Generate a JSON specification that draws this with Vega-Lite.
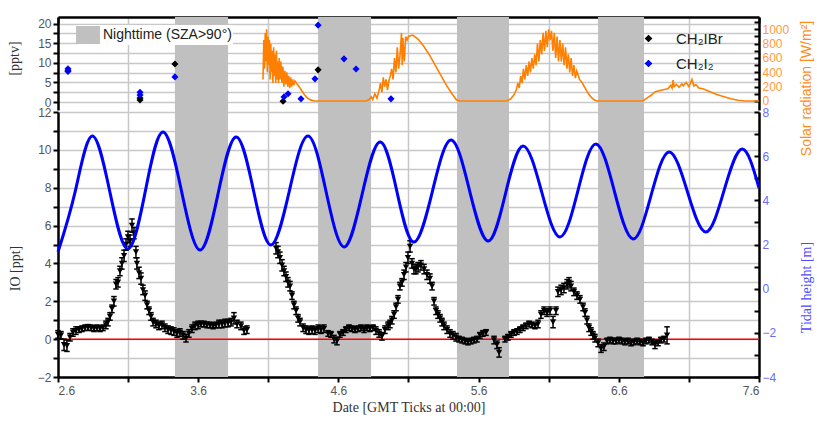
{
"$schema":"https://vega.github.io/schema/vega-lite/v6.json",
"autosize":{"type":"none"},
"padding":{"left":58,"top":17,"right":58,"bottom":44},
"width":701,
"height":360,
"config":{"view":{"stroke":null},
 "axis":{"labelFont":"Liberation Sans","labelFontSize":12,"labelColor":"#555","titleFont":"Liberation Serif","titleFontSize":14,"titleColor":"#333","titleFontWeight":"normal","domainColor":"black","domainWidth":2.5,"tickColor":"black","tickWidth":2,"tickSize":5,"gridColor":"#c8c8c8","gridWidth":1.5}},
"datasets":{
"bands":[{"start":3.434,"end":3.813,"label":"Nighttime (SZA>90°)"},{"start":4.455,"end":4.833,"label":"Nighttime (SZA>90°)"},{"start":5.446,"end":5.817,"label":"Nighttime (SZA>90°)"},{"start":6.452,"end":6.780,"label":"Nighttime (SZA>90°)"}],
"zero":[{"a":2.6,"b":7.6,"z":0}],
"chem":[{"d":2.671,"v":8.0,"sp":"CH₂IBr"},{"d":3.185,"v":1.0,"sp":"CH₂IBr"},{"d":3.185,"v":0.5,"sp":"CH₂IBr"},{"d":3.434,"v":9.7,"sp":"CH₂IBr"},{"d":4.205,"v":0.2,"sp":"CH₂IBr"},{"d":4.455,"v":8.2,"sp":"CH₂IBr"},
{"d":2.671,"v":8.5,"sp":"CH₂I₂"},{"d":2.671,"v":7.8,"sp":"CH₂I₂"},{"d":3.185,"v":2.5,"sp":"CH₂I₂"},{"d":3.185,"v":1.8,"sp":"CH₂I₂"},{"d":3.434,"v":6.4,"sp":"CH₂I₂"},{"d":4.212,"v":1.3,"sp":"CH₂I₂"},{"d":4.241,"v":2.1,"sp":"CH₂I₂"},{"d":4.333,"v":0.8,"sp":"CH₂I₂"},{"d":4.433,"v":5.9,"sp":"CH₂I₂"},{"d":4.455,"v":19.6,"sp":"CH₂I₂"},{"d":4.640,"v":11.0,"sp":"CH₂I₂"},{"d":4.726,"v":8.4,"sp":"CH₂I₂"},{"d":4.975,"v":0.8,"sp":"CH₂I₂"}],
"solar":[{"d":4.062,"s":300},{"d":4.068,"s":850},{"d":4.073,"s":450},{"d":4.078,"s":950},{"d":4.083,"s":550},{"d":4.088,"s":1000},{"d":4.093,"s":400},{"d":4.098,"s":900},{"d":4.103,"s":500},{"d":4.108,"s":850},{"d":4.113,"s":300},{"d":4.118,"s":800},{"d":4.123,"s":400},{"d":4.128,"s":700},{"d":4.133,"s":250},{"d":4.138,"s":750},{"d":4.143,"s":350},{"d":4.148,"s":650},{"d":4.153,"s":250},{"d":4.158,"s":700},{"d":4.163,"s":300},{"d":4.168,"s":550},{"d":4.173,"s":250},{"d":4.178,"s":600},{"d":4.183,"s":300},{"d":4.190,"s":550},{"d":4.197,"s":250},{"d":4.204,"s":480},{"d":4.211,"s":200},{"d":4.218,"s":420},{"d":4.225,"s":230},{"d":4.232,"s":400},{"d":4.239,"s":200},{"d":4.246,"s":350},{"d":4.253,"s":180},{"d":4.260,"s":330},{"d":4.267,"s":200},{"d":4.274,"s":300},{"d":4.281,"s":220},{"d":4.290,"s":280},{"d":4.300,"s":250},{"d":4.320,"s":200},{"d":4.340,"s":140},{"d":4.360,"s":80},{"d":4.380,"s":40},{"d":4.400,"s":15},{"d":4.430,"s":0},{"d":4.800,"s":0},{"d":4.820,"s":20},{"d":4.835,"s":60},{"d":4.845,"s":20},{"d":4.860,"s":100},{"d":4.875,"s":40},{"d":4.890,"s":150},{"d":4.900,"s":250},{"d":4.910,"s":120},{"d":4.920,"s":330},{"d":4.930,"s":200},{"d":4.940,"s":300},{"d":4.950,"s":150},{"d":4.960,"s":280},{"d":4.970,"s":350},{"d":4.980,"s":450},{"d":4.990,"s":300},{"d":5.000,"s":600},{"d":5.010,"s":400},{"d":5.020,"s":750},{"d":5.030,"s":450},{"d":5.040,"s":650},{"d":5.050,"s":950},{"d":5.055,"s":500},{"d":5.060,"s":880},{"d":5.070,"s":550},{"d":5.080,"s":900},{"d":5.090,"s":850},{"d":5.100,"s":900},{"d":5.130,"s":920},{"d":5.170,"s":860},{"d":5.210,"s":760},{"d":5.250,"s":640},{"d":5.290,"s":500},{"d":5.330,"s":360},{"d":5.370,"s":220},{"d":5.410,"s":100},{"d":5.440,"s":20},{"d":5.460,"s":0},{"d":5.800,"s":0},{"d":5.830,"s":30},{"d":5.850,"s":80},{"d":5.870,"s":160},{"d":5.880,"s":250},{"d":5.890,"s":180},{"d":5.900,"s":350},{"d":5.910,"s":250},{"d":5.920,"s":450},{"d":5.930,"s":300},{"d":5.940,"s":500},{"d":5.950,"s":350},{"d":5.960,"s":550},{"d":5.970,"s":400},{"d":5.980,"s":600},{"d":5.990,"s":450},{"d":6.000,"s":650},{"d":6.010,"s":500},{"d":6.020,"s":800},{"d":6.030,"s":550},{"d":6.040,"s":850},{"d":6.050,"s":650},{"d":6.060,"s":950},{"d":6.070,"s":700},{"d":6.080,"s":980},{"d":6.090,"s":750},{"d":6.100,"s":1000},{"d":6.110,"s":850},{"d":6.120,"s":980},{"d":6.130,"s":700},{"d":6.140,"s":950},{"d":6.150,"s":600},{"d":6.160,"s":900},{"d":6.170,"s":550},{"d":6.180,"s":850},{"d":6.190,"s":550},{"d":6.200,"s":800},{"d":6.210,"s":500},{"d":6.220,"s":750},{"d":6.230,"s":450},{"d":6.240,"s":650},{"d":6.250,"s":400},{"d":6.260,"s":600},{"d":6.270,"s":350},{"d":6.280,"s":500},{"d":6.290,"s":320},{"d":6.300,"s":420},{"d":6.320,"s":300},{"d":6.340,"s":250},{"d":6.360,"s":180},{"d":6.380,"s":110},{"d":6.400,"s":60},{"d":6.420,"s":20},{"d":6.445,"s":0},{"d":6.770,"s":0},{"d":6.800,"s":40},{"d":6.830,"s":80},{"d":6.860,"s":130},{"d":6.900,"s":150},{"d":6.950,"s":170},{"d":6.970,"s":220},{"d":6.980,"s":180},{"d":6.987,"s":290},{"d":6.995,"s":200},{"d":7.010,"s":230},{"d":7.030,"s":190},{"d":7.050,"s":240},{"d":7.060,"s":210},{"d":7.080,"s":260},{"d":7.100,"s":200},{"d":7.122,"s":300},{"d":7.135,"s":210},{"d":7.150,"s":230},{"d":7.170,"s":180},{"d":7.200,"s":170},{"d":7.250,"s":130},{"d":7.300,"s":90},{"d":7.350,"s":60},{"d":7.400,"s":30},{"d":7.450,"s":10},{"d":7.500,"s":0},{"d":7.600,"s":0}],
"tide":[{"d":2.600,"h":1.66},{"d":2.722,"h":4.38},{"d":2.843,"h":6.91},{"d":2.971,"h":4.35},{"d":3.099,"h":1.80},{"d":3.224,"h":4.45},{"d":3.349,"h":7.09},{"d":3.481,"h":4.42},{"d":3.613,"h":1.75},{"d":3.742,"h":4.31},{"d":3.870,"h":6.87},{"d":3.995,"h":4.43},{"d":4.119,"h":1.98},{"d":4.251,"h":4.45},{"d":4.383,"h":6.91},{"d":4.512,"h":4.4},{"d":4.640,"h":1.89},{"d":4.769,"h":4.27},{"d":4.897,"h":6.64},{"d":5.018,"h":4.38},{"d":5.139,"h":2.11},{"d":5.271,"h":4.42},{"d":5.403,"h":6.73},{"d":5.535,"h":4.45},{"d":5.667,"h":2.16},{"d":5.792,"h":4.31},{"d":5.917,"h":6.46},{"d":6.049,"h":4.4},{"d":6.181,"h":2.34},{"d":6.309,"h":4.45},{"d":6.437,"h":6.55},{"d":6.569,"h":4.4},{"d":6.701,"h":2.25},{"d":6.830,"h":4.22},{"d":6.958,"h":6.19},{"d":7.090,"h":4.38},{"d":7.222,"h":2.57},{"d":7.351,"h":4.45},{"d":7.479,"h":6.32},{"d":7.600,"h":4.56}],
"io":[{"d":2.600,"v":0.25,"lo":0.05,"hi":0.45},{"d":2.621,"v":0.2,"lo":0.0,"hi":0.4},{"d":2.643,"v":-0.3,"lo":-0.6,"hi":0.0},{"d":2.664,"v":-0.35,"lo":-0.65,"hi":-0.05},{"d":2.686,"v":0.1,"lo":-0.1,"hi":0.3},{"d":2.707,"v":0.35,"lo":0.15,"hi":0.55},{"d":2.728,"v":0.45,"lo":0.25,"hi":0.65},{"d":2.750,"v":0.5,"lo":0.35,"hi":0.65},{"d":2.771,"v":0.55,"lo":0.4,"hi":0.7},{"d":2.793,"v":0.6,"lo":0.45,"hi":0.75},{"d":2.814,"v":0.62,"lo":0.47,"hi":0.77},{"d":2.835,"v":0.6,"lo":0.45,"hi":0.75},{"d":2.857,"v":0.55,"lo":0.4,"hi":0.7},{"d":2.878,"v":0.6,"lo":0.45,"hi":0.75},{"d":2.900,"v":0.55,"lo":0.4,"hi":0.7},{"d":2.921,"v":0.6,"lo":0.45,"hi":0.75},{"d":2.942,"v":0.75,"lo":0.55,"hi":0.95},{"d":2.957,"v":0.9,"lo":0.7,"hi":1.1},{"d":2.971,"v":1.2,"lo":1.0,"hi":1.4},{"d":2.985,"v":1.6,"lo":1.4,"hi":1.8},{"d":2.999,"v":2.0,"lo":1.75,"hi":2.25},{"d":3.014,"v":2.9,"lo":2.65,"hi":3.15},{"d":3.028,"v":3.0,"lo":2.75,"hi":3.25},{"d":3.042,"v":3.6,"lo":3.35,"hi":3.85},{"d":3.056,"v":4.0,"lo":3.7,"hi":4.3},{"d":3.071,"v":4.4,"lo":4.1,"hi":4.7},{"d":3.085,"v":5.0,"lo":4.7,"hi":5.3},{"d":3.099,"v":5.4,"lo":5.1,"hi":5.7},{"d":3.114,"v":5.2,"lo":4.9,"hi":5.5},{"d":3.128,"v":6.0,"lo":5.65,"hi":6.35},{"d":3.142,"v":5.6,"lo":5.3,"hi":5.9},{"d":3.156,"v":4.6,"lo":4.3,"hi":4.9},{"d":3.163,"v":4.0,"lo":3.7,"hi":4.3},{"d":3.178,"v":3.5,"lo":3.2,"hi":3.8},{"d":3.192,"v":3.2,"lo":2.9,"hi":3.5},{"d":3.206,"v":2.6,"lo":2.35,"hi":2.85},{"d":3.221,"v":2.3,"lo":2.05,"hi":2.55},{"d":3.235,"v":1.8,"lo":1.6,"hi":2.0},{"d":3.249,"v":1.5,"lo":1.3,"hi":1.7},{"d":3.263,"v":1.2,"lo":1.0,"hi":1.4},{"d":3.278,"v":0.9,"lo":0.7,"hi":1.1},{"d":3.299,"v":0.8,"lo":0.6,"hi":1.0},{"d":3.320,"v":0.7,"lo":0.5,"hi":0.9},{"d":3.342,"v":0.75,"lo":0.55,"hi":0.95},{"d":3.363,"v":0.6,"lo":0.4,"hi":0.8},{"d":3.385,"v":0.5,"lo":0.3,"hi":0.7},{"d":3.406,"v":0.45,"lo":0.25,"hi":0.65},{"d":3.427,"v":0.4,"lo":0.2,"hi":0.6},{"d":3.449,"v":0.3,"lo":0.1,"hi":0.5},{"d":3.470,"v":0.35,"lo":0.15,"hi":0.55},{"d":3.492,"v":0.2,"lo":0.0,"hi":0.4},{"d":3.513,"v":0.05,"lo":-0.15,"hi":0.25},{"d":3.534,"v":0.3,"lo":0.1,"hi":0.5},{"d":3.556,"v":0.55,"lo":0.35,"hi":0.75},{"d":3.577,"v":0.7,"lo":0.5,"hi":0.9},{"d":3.599,"v":0.75,"lo":0.55,"hi":0.95},{"d":3.620,"v":0.8,"lo":0.65,"hi":0.95},{"d":3.641,"v":0.8,"lo":0.65,"hi":0.95},{"d":3.663,"v":0.75,"lo":0.6,"hi":0.9},{"d":3.684,"v":0.75,"lo":0.6,"hi":0.9},{"d":3.706,"v":0.7,"lo":0.55,"hi":0.85},{"d":3.727,"v":0.75,"lo":0.6,"hi":0.9},{"d":3.748,"v":0.8,"lo":0.6,"hi":1.0},{"d":3.770,"v":0.8,"lo":0.6,"hi":1.0},{"d":3.791,"v":0.85,"lo":0.65,"hi":1.05},{"d":3.813,"v":0.85,"lo":0.65,"hi":1.05},{"d":3.834,"v":0.9,"lo":0.7,"hi":1.1},{"d":3.855,"v":1.1,"lo":0.8,"hi":1.4},{"d":3.877,"v":0.8,"lo":0.6,"hi":1.0},{"d":3.905,"v":0.7,"lo":0.5,"hi":0.9},{"d":3.927,"v":0.45,"lo":0.25,"hi":0.65},{"d":3.948,"v":0.5,"lo":0.3,"hi":0.7},
{"d":4.155,"v":4.8,"lo":4.5,"hi":5.1},{"d":4.169,"v":4.6,"lo":4.3,"hi":4.9},{"d":4.183,"v":4.3,"lo":4.0,"hi":4.6},{"d":4.198,"v":3.9,"lo":3.6,"hi":4.2},{"d":4.212,"v":3.6,"lo":3.35,"hi":3.85},{"d":4.226,"v":3.3,"lo":3.05,"hi":3.55},{"d":4.240,"v":3.0,"lo":2.75,"hi":3.25},{"d":4.255,"v":2.8,"lo":2.55,"hi":3.05},{"d":4.269,"v":2.3,"lo":2.1,"hi":2.5},{"d":4.283,"v":1.8,"lo":1.6,"hi":2.0},{"d":4.298,"v":1.5,"lo":1.3,"hi":1.7},{"d":4.312,"v":1.1,"lo":0.9,"hi":1.3},{"d":4.326,"v":0.9,"lo":0.7,"hi":1.1},{"d":4.348,"v":0.6,"lo":0.4,"hi":0.8},{"d":4.369,"v":0.5,"lo":0.3,"hi":0.7},{"d":4.390,"v":0.45,"lo":0.25,"hi":0.65},{"d":4.412,"v":0.5,"lo":0.3,"hi":0.7},{"d":4.433,"v":0.45,"lo":0.25,"hi":0.65},{"d":4.455,"v":0.55,"lo":0.35,"hi":0.75},{"d":4.476,"v":0.5,"lo":0.3,"hi":0.7},{"d":4.497,"v":0.55,"lo":0.35,"hi":0.75},{"d":4.526,"v":0.3,"lo":0.15,"hi":0.45},{"d":4.547,"v":0.25,"lo":0.1,"hi":0.4},{"d":4.569,"v":0.0,"lo":-0.2,"hi":0.2},{"d":4.590,"v":-0.1,"lo":-0.3,"hi":0.1},{"d":4.611,"v":0.25,"lo":0.1,"hi":0.4},{"d":4.633,"v":0.35,"lo":0.2,"hi":0.5},{"d":4.654,"v":0.5,"lo":0.35,"hi":0.65},{"d":4.676,"v":0.6,"lo":0.45,"hi":0.75},{"d":4.697,"v":0.55,"lo":0.4,"hi":0.7},{"d":4.718,"v":0.5,"lo":0.35,"hi":0.65},{"d":4.740,"v":0.55,"lo":0.4,"hi":0.7},{"d":4.761,"v":0.6,"lo":0.45,"hi":0.75},{"d":4.783,"v":0.5,"lo":0.35,"hi":0.65},{"d":4.804,"v":0.6,"lo":0.45,"hi":0.75},{"d":4.825,"v":0.55,"lo":0.4,"hi":0.7},{"d":4.847,"v":0.6,"lo":0.45,"hi":0.75},{"d":4.868,"v":0.45,"lo":0.25,"hi":0.65},{"d":4.890,"v":0.3,"lo":0.1,"hi":0.5},{"d":4.911,"v":0.15,"lo":-0.05,"hi":0.35},{"d":4.932,"v":0.5,"lo":0.3,"hi":0.7},{"d":4.954,"v":0.7,"lo":0.5,"hi":0.9},{"d":4.968,"v":0.8,"lo":0.6,"hi":1.0},{"d":4.982,"v":1.0,"lo":0.8,"hi":1.2},{"d":4.997,"v":1.3,"lo":1.1,"hi":1.5},{"d":5.011,"v":1.7,"lo":1.5,"hi":1.9},{"d":5.025,"v":2.1,"lo":1.9,"hi":2.3},{"d":5.039,"v":2.8,"lo":2.6,"hi":3.0},{"d":5.054,"v":3.0,"lo":2.8,"hi":3.2},{"d":5.068,"v":3.4,"lo":3.15,"hi":3.65},{"d":5.082,"v":3.8,"lo":3.55,"hi":4.05},{"d":5.096,"v":4.3,"lo":4.0,"hi":4.6},{"d":5.111,"v":4.9,"lo":4.6,"hi":5.2},{"d":5.125,"v":4.0,"lo":3.75,"hi":4.25},{"d":5.139,"v":3.7,"lo":3.45,"hi":3.95},{"d":5.153,"v":3.7,"lo":3.45,"hi":3.95},{"d":5.168,"v":3.8,"lo":3.55,"hi":4.05},{"d":5.189,"v":3.9,"lo":3.65,"hi":4.15},{"d":5.211,"v":3.7,"lo":3.45,"hi":3.95},{"d":5.232,"v":3.4,"lo":3.15,"hi":3.65},{"d":5.253,"v":3.2,"lo":2.95,"hi":3.45},{"d":5.268,"v":2.8,"lo":2.6,"hi":3.0},{"d":5.282,"v":2.0,"lo":1.8,"hi":2.2},{"d":5.296,"v":1.5,"lo":1.3,"hi":1.7},{"d":5.310,"v":1.3,"lo":1.1,"hi":1.5},{"d":5.325,"v":1.1,"lo":0.9,"hi":1.3},{"d":5.339,"v":0.9,"lo":0.7,"hi":1.1},{"d":5.353,"v":0.7,"lo":0.5,"hi":0.9},{"d":5.375,"v":0.5,"lo":0.3,"hi":0.7},{"d":5.396,"v":0.3,"lo":0.1,"hi":0.5},{"d":5.417,"v":0.2,"lo":0.0,"hi":0.4},{"d":5.439,"v":0.1,"lo":-0.1,"hi":0.3},{"d":5.460,"v":0.0,"lo":-0.15,"hi":0.15},{"d":5.482,"v":-0.05,"lo":-0.2,"hi":0.1},{"d":5.503,"v":-0.1,"lo":-0.25,"hi":0.05},{"d":5.524,"v":-0.15,"lo":-0.3,"hi":0.0},{"d":5.546,"v":-0.1,"lo":-0.25,"hi":0.05},{"d":5.567,"v":-0.05,"lo":-0.2,"hi":0.1},{"d":5.589,"v":0.0,"lo":-0.15,"hi":0.15},{"d":5.610,"v":0.2,"lo":0.05,"hi":0.35},{"d":5.631,"v":0.3,"lo":0.15,"hi":0.45},{"d":5.653,"v":0.35,"lo":0.2,"hi":0.5},{"d":5.710,"v":-0.05,"lo":-0.25,"hi":0.15},{"d":5.731,"v":-0.3,"lo":-0.5,"hi":-0.1},{"d":5.746,"v":-0.7,"lo":-0.95,"hi":-0.45},{"d":5.788,"v":0.0,"lo":-0.15,"hi":0.15},{"d":5.810,"v":0.1,"lo":-0.05,"hi":0.25},{"d":5.831,"v":0.25,"lo":0.1,"hi":0.4},{"d":5.853,"v":0.35,"lo":0.2,"hi":0.5},{"d":5.874,"v":0.4,"lo":0.25,"hi":0.55},{"d":5.895,"v":0.5,"lo":0.35,"hi":0.65},{"d":5.917,"v":0.6,"lo":0.45,"hi":0.75},{"d":5.938,"v":0.7,"lo":0.55,"hi":0.85},{"d":5.960,"v":0.8,"lo":0.65,"hi":0.95},{"d":5.981,"v":0.75,"lo":0.6,"hi":0.9},{"d":6.002,"v":0.7,"lo":0.55,"hi":0.85},{"d":6.024,"v":0.8,"lo":0.6,"hi":1.0},{"d":6.045,"v":1.3,"lo":1.1,"hi":1.5},{"d":6.067,"v":1.5,"lo":1.3,"hi":1.7},{"d":6.088,"v":1.4,"lo":1.2,"hi":1.6},{"d":6.109,"v":1.5,"lo":1.3,"hi":1.7},{"d":6.131,"v":0.9,"lo":0.6,"hi":1.2},{"d":6.152,"v":1.5,"lo":1.3,"hi":1.7},{"d":6.166,"v":2.5,"lo":2.25,"hi":2.75},{"d":6.188,"v":2.6,"lo":2.35,"hi":2.85},{"d":6.209,"v":2.7,"lo":2.45,"hi":2.95},{"d":6.231,"v":2.9,"lo":2.65,"hi":3.15},{"d":6.245,"v":3.0,"lo":2.75,"hi":3.25},{"d":6.259,"v":2.8,"lo":2.55,"hi":3.05},{"d":6.280,"v":2.5,"lo":2.3,"hi":2.7},{"d":6.302,"v":2.3,"lo":2.1,"hi":2.5},{"d":6.323,"v":2.1,"lo":1.9,"hi":2.3},{"d":6.345,"v":1.7,"lo":1.5,"hi":1.9},{"d":6.359,"v":1.4,"lo":1.2,"hi":1.6},{"d":6.373,"v":1.0,"lo":0.8,"hi":1.2},{"d":6.387,"v":0.6,"lo":0.4,"hi":0.8},{"d":6.402,"v":0.4,"lo":0.2,"hi":0.6},{"d":6.416,"v":0.2,"lo":0.0,"hi":0.4},{"d":6.430,"v":0.05,"lo":-0.15,"hi":0.25},{"d":6.452,"v":-0.2,"lo":-0.4,"hi":0.0},{"d":6.473,"v":-0.5,"lo":-0.7,"hi":-0.3},{"d":6.494,"v":-0.4,"lo":-0.6,"hi":-0.2},{"d":6.516,"v":-0.1,"lo":-0.25,"hi":0.05},{"d":6.537,"v":-0.05,"lo":-0.2,"hi":0.1},{"d":6.559,"v":-0.1,"lo":-0.25,"hi":0.05},{"d":6.580,"v":-0.1,"lo":-0.25,"hi":0.05},{"d":6.601,"v":-0.05,"lo":-0.2,"hi":0.1},{"d":6.623,"v":-0.1,"lo":-0.25,"hi":0.05},{"d":6.644,"v":-0.15,"lo":-0.3,"hi":0.0},{"d":6.666,"v":-0.1,"lo":-0.25,"hi":0.05},{"d":6.687,"v":-0.2,"lo":-0.35,"hi":-0.05},{"d":6.708,"v":-0.15,"lo":-0.3,"hi":0.0},{"d":6.730,"v":-0.1,"lo":-0.25,"hi":0.05},{"d":6.751,"v":-0.15,"lo":-0.3,"hi":0.0},{"d":6.773,"v":-0.2,"lo":-0.35,"hi":-0.05},{"d":6.794,"v":-0.1,"lo":-0.25,"hi":0.05},{"d":6.815,"v":-0.05,"lo":-0.2,"hi":0.1},{"d":6.837,"v":-0.15,"lo":-0.3,"hi":0.0},{"d":6.858,"v":-0.3,"lo":-0.5,"hi":-0.1},{"d":6.880,"v":-0.2,"lo":-0.35,"hi":-0.05},{"d":6.901,"v":-0.05,"lo":-0.2,"hi":0.1},{"d":6.922,"v":0.0,"lo":-0.15,"hi":0.15},{"d":6.944,"v":0.2,"lo":-0.25,"hi":0.65}]
},
"resolve":{"scale":{"x":"independent","y":"independent"}},
"layer":[
  {"data":{"name":"bands"},"mark":{"type":"rect","opacity":1},
   "encoding":{
    "x":{"field":"start","type":"quantitative","scale":{"domain":[2.6,7.6],"nice":false,"zero":false},
      "axis":{"orient":"top","title":null,"labels":false,"values":[2.6,3.1,3.6,4.1,4.6,5.1,5.6,6.1,6.6,7.1,7.6],"grid":true,"tickSize":-6,
       "gridOpacity":{"condition":{"test":"round(datum.value*10)%10==1","value":1},"value":0},
       "tickOpacity":{"condition":{"test":"round(datum.value*10)%10==6","value":1},"value":0}}},
    "x2":{"field":"end"},
    "fill":{"field":"label","type":"nominal","scale":{"domain":["Nighttime (SZA>90°)"],"range":["#c0c0c0"]},
      "legend":{"orient":"none","legendX":20,"legendY":8,"title":null,"symbolType":"M-1.33,-1H1.33V1H-1.33Z","symbolSize":324,"symbolStrokeWidth":0,"labelFont":"Liberation Sans","labelFontSize":14,"labelColor":"#222","fillColor":"white","padding":1,"labelOffset":6}}}},
  {"data":{"name":"chem"},"mark":{"type":"point","shape":"diamond","filled":true,"size":50,"opacity":1},
   "encoding":{
    "x":{"field":"d","type":"quantitative","scale":{"domain":[2.6,7.6],"nice":false,"zero":false},"axis":null},
    "y":{"field":"v","type":"quantitative","scale":{"domain":[-2.04,21.68],"range":[93,0],"nice":false,"zero":false},
      "axis":{"orient":"left","title":"[pptv]","values":[0,2.5,5,7.5,10,12.5,15,17.5,20],"labelExpr":"datum.value%5==0?datum.label:''","grid":true,"labelPadding":2,"titleX":-44,"titleY":41,"titleAngle":270,"titleBaseline":"middle","titleAlign":"center"}},
    "color":{"field":"sp","type":"nominal","scale":{"domain":["CH₂IBr","CH₂I₂"],"range":["black","blue"]},
      "legend":{"orient":"none","legendX":583,"legendY":14,"title":null,"symbolType":"diamond","symbolSize":60,"labelFont":"Liberation Sans","labelFontSize":15,"labelColor":"#222","rowPadding":9,"labelOffset":20}}}},
  {"data":{"name":"solar"},"mark":{"type":"line","color":"#ff8000","strokeWidth":1.6},
   "encoding":{
    "x":{"field":"d","type":"quantitative","scale":{"domain":[2.6,7.6],"nice":false,"zero":false},"axis":null},
    "y":{"field":"s","type":"quantitative","scale":{"domain":[-126,1172],"range":[93,0],"nice":false,"zero":false},
      "axis":{"orient":"right","title":"Solar radiation [W/m²]","format":"d","values":[0,100,200,300,400,500,600,700,800,900,1000,1100,1200],"labelExpr":"datum.value%200==0?datum.label:''","grid":false,"tickSize":-5,"labelPadding":8,"labelColor":"#ff9a40","titleColor":"#ff8c1a","titleFont":"Liberation Sans","titleFontSize":14,"titleX":47,"titleY":71,"titleAngle":270,"titleBaseline":"middle","titleAlign":"center"}}}},
  {"data":{"name":"zero"},"mark":{"type":"rule","color":"#ff0000","strokeWidth":1.5},
   "encoding":{"x":{"field":"a","type":"quantitative","scale":{"domain":[2.6,7.6],"nice":false,"zero":false},"axis":null},"x2":{"field":"b"},
    "y":{"field":"z","type":"quantitative","scale":{"domain":[-2,12],"range":[360,95],"nice":false,"zero":false},"axis":null}}},
  {"data":{"name":"io"},"mark":{"type":"rule","color":"black","strokeWidth":1.5},
   "encoding":{"x":{"field":"d","type":"quantitative","scale":{"domain":[2.6,7.6],"nice":false,"zero":false},"axis":null},
    "y":{"field":"lo","type":"quantitative","scale":{"domain":[-2,12],"range":[360,95],"nice":false,"zero":false},"axis":null},
    "y2":{"field":"hi"}}},
  {"data":{"name":"io"},"mark":{"type":"point","shape":"M-1,0H1","strokeWidth":1.5,"size":30,"color":"black","filled":false,"opacity":1},
   "encoding":{"x":{"field":"d","type":"quantitative","scale":{"domain":[2.6,7.6],"nice":false,"zero":false},"axis":null},
    "y":{"field":"hi","type":"quantitative","scale":{"domain":[-2,12],"range":[360,95],"nice":false,"zero":false},"axis":null}}},
  {"data":{"name":"io"},"mark":{"type":"point","shape":"M-1,0H1","strokeWidth":1.5,"size":30,"color":"black","filled":false,"opacity":1},
   "encoding":{"x":{"field":"d","type":"quantitative","scale":{"domain":[2.6,7.6],"nice":false,"zero":false},"axis":null},
    "y":{"field":"lo","type":"quantitative","scale":{"domain":[-2,12],"range":[360,95],"nice":false,"zero":false},"axis":null}}},
  {"data":{"name":"io"},"mark":{"type":"point","shape":"triangle-down","filled":true,"size":40,"color":"black","opacity":1},
   "encoding":{"x":{"field":"d","type":"quantitative","scale":{"domain":[2.6,7.6],"nice":false,"zero":false},"axis":null},
    "y":{"field":"v","type":"quantitative","scale":{"domain":[-2,12],"range":[360,95],"nice":false,"zero":false},
     "axis":{"orient":"left","title":"IO [ppt]","values":[-2,-1,0,1,2,3,4,5,6,7,8,9,10,11,12],"labelExpr":"datum.value%2==0?datum.label:''","grid":true,"labelPadding":2,"titleX":-43,"titleY":251,"titleAngle":270,"titleBaseline":"middle","titleAlign":"center"}}}},
  {"data":{"name":"tide"},"mark":{"type":"line","color":"#0000ff","strokeWidth":3,"interpolate":"natural"},
   "encoding":{
    "x":{"field":"d","type":"quantitative","scale":{"domain":[2.6,7.6],"nice":false,"zero":false},
      "axis":{"orient":"bottom","title":"Date [GMT Ticks at 00:00]","values":[2.6,3.1,3.6,4.1,4.6,5.1,5.6,6.1,6.6,7.1,7.6],"grid":false,"labelPadding":3,"titlePadding":4,
       "labelExpr":"round(datum.value*10)%10==6?datum.label:''"}},
    "y":{"field":"h","type":"quantitative","scale":{"domain":[-4,8],"range":[360,95],"nice":false,"zero":false},
      "axis":{"orient":"right","title":"Tidal height [m]","values":[-4,-3,-2,-1,0,1,2,3,4,5,6,7,8],"labelExpr":"datum.value%2==0?datum.label:''","grid":false,"tickSize":-5,"labelPadding":8,"labelColor":"#6b6bff","titleColor":"#4a4aff","titleX":47,"titleY":270,"titleAngle":270,"titleBaseline":"middle","titleAlign":"center"}}}}
]
}
